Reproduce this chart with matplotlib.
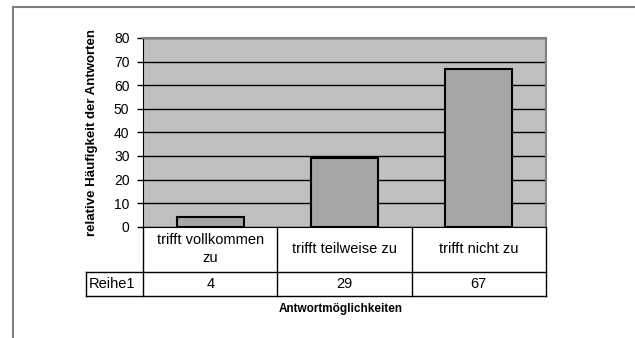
import matplotlib.pyplot as plt
from matplotlib.lines import Line2D
import matplotlib.transforms as mtransforms

plt.rcParams['font.family'] = ['Liberation Sans', 'DejaVu Sans']

# Daten
categories = ["trifft vollkommen\nzu", "trifft teilweise zu", "trifft nicht zu"]
values = [4, 29, 67]
series_name = "Reihe1"
yticks = [0, 10, 20, 30, 40, 50, 60, 70, 80]

fig = plt.figure(figsize=(6.35, 3.38), dpi=100)
ax = fig.add_axes([0.2257, 0.3293, 0.6337, 0.5583])
ax.set_facecolor("#C0C0C0")

x = list(range(len(categories)))
ax.bar(x, values, width=0.5, color="#A5A5A5", edgecolor="black", linewidth=1.5, zorder=3)

ax.set_xlim(-0.5, len(categories) - 0.5)
ax.set_ylim(0, 80)
ax.set_yticks(yticks)
ax.set_xticks([])
ax.yaxis.grid(True, color="black", linewidth=1)
ax.set_axisbelow(True)
ax.tick_params(axis="y", direction="out", length=4, width=1, pad=6, labelsize=10)

for side in ["top", "right"]:
    ax.spines[side].set_color("#808080")
    ax.spines[side].set_linewidth(1.5)
ax.spines["left"].set_color("black")
ax.spines["bottom"].set_color("black")

# Achsentitel
fig.text(91.5 / 635, 1 - 132 / 338, "relative Häufigkeit der Antworten", rotation=90,
         ha="center", va="center", fontsize=9.5, fontweight="bold")
fig.text(0.536, 0.0858, "Antwortmöglichkeiten", ha="center", va="center",
         fontsize=8.5, fontweight="bold")

# Datentabelle unter dem Diagramm
trans = mtransforms.blended_transform_factory(ax.transData, ax.transAxes)
y_head = -0.2385
y_row = -0.367
x_left = -0.93
x_right = len(categories) - 0.5

def hline(y, x0, x1):
    ax.add_line(Line2D([x0, x1], [y, y], transform=trans, color="black", lw=1, clip_on=False))

def vline(xv, y0, y1):
    ax.add_line(Line2D([xv, xv], [y0, y1], transform=trans, color="black", lw=1, clip_on=False))

hline(y_head, x_left, x_right)
hline(y_row, x_left, x_right)
vline(x_left, y_head, y_row)
for b in range(len(categories) + 1):
    vline(b - 0.5, 0, y_row)

for i, (cat, val) in enumerate(zip(categories, values)):
    ax.text(i, y_head / 2, cat, transform=trans, ha="center", va="center",
            fontsize=10.5, linespacing=1.35)
    ax.text(i, (y_head + y_row) / 2, str(val), transform=trans, ha="center", va="center",
            fontsize=10.5)
ax.text(x_left + 0.02, (y_head + y_row) / 2, series_name, transform=trans,
        ha="left", va="center", fontsize=10.5)

# Rahmen um die Grafik
fig.add_artist(Line2D([13 / 635, 1], [1 - 7 / 338, 1 - 7 / 338], transform=fig.transFigure,
                      color="#808080", lw=1.5))
fig.add_artist(Line2D([13 / 635, 13 / 635], [0, 1 - 7 / 338], transform=fig.transFigure,
                      color="#808080", lw=1.5))

fig.savefig("out.png", dpi=100)
